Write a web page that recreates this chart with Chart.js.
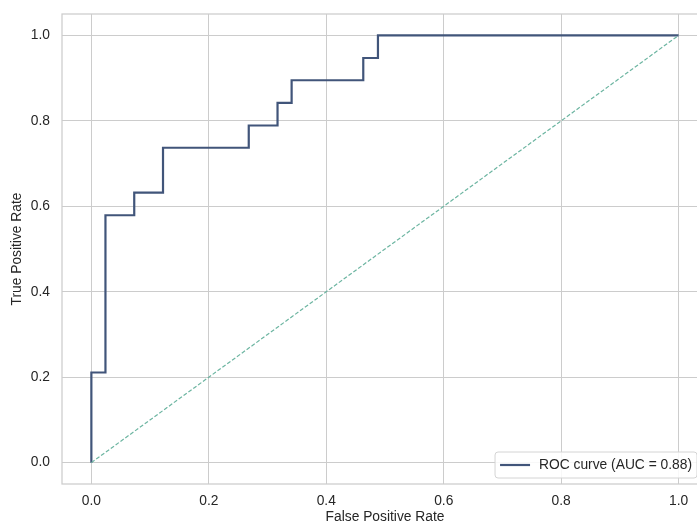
<!DOCTYPE html>
<html>
<head>
<meta charset="utf-8">
<title>ROC curve</title>
<script src="https://cdn.jsdelivr.net/npm/chart.js@4.4.1/dist/chart.umd.min.js"></script>
<style>
  html, body { margin: 0; padding: 0; background: #fff; overflow: hidden; }
  #wrap { width: 712px; height: 524px; }
</style>
</head>
<body>
<div id="wrap"><canvas id="roc" width="712" height="524"></canvas></div>
<script>
// ROC points (false positive rate / true positive rate)
const fpr = [0, 0, 0.024, 0.024, 0.073, 0.073, 0.122, 0.122, 0.268, 0.268, 0.317, 0.317, 0.341, 0.341, 0.463, 0.463, 0.488, 0.488, 1.0];
const tpr = [0, 0.211, 0.211, 0.579, 0.579, 0.632, 0.632, 0.737, 0.737, 0.789, 0.789, 0.842, 0.842, 0.895, 0.895, 0.947, 0.947, 1.0, 1.0];
const chanceX = [0, 1];
const chanceY = [0, 1];
const tickValues = [0, 0.2, 0.4, 0.6, 0.8, 1.0];
const rocLabel = 'ROC curve (AUC = 0.88)';

const FONT = '"Liberation Sans", Arial, sans-serif';
const TEXT = '#262626';
const GRID = '#cccccc';
const ROC_COLOR = '#41557a';
const DIAG_COLOR = '#6cb5a1';

const toPoints = (xs, ys) => xs.map((x, i) => ({ x: x, y: ys[i] }));

// frame round the plot area + legend in the lower right corner
const framePlugin = {
  id: 'frame',
  afterDatasetsDraw(chart) {
    const { ctx, chartArea: a } = chart;
    ctx.save();
    ctx.strokeStyle = GRID;
    ctx.lineWidth = 1.25;
    ctx.strokeRect(a.left, a.top, a.right - a.left, a.bottom - a.top);

    ctx.font = '13.8px ' + FONT;
    const tw = ctx.measureText(rocLabel).width;
    const w = 5 + 30 + 9 + tw + 5;
    const h = 26;
    const x = a.right - 11 - w;
    const y = a.bottom - 6 - h;
    ctx.beginPath();
    ctx.roundRect(x, y, w, h, 3);
    ctx.fillStyle = 'rgba(255,255,255,0.85)';
    ctx.fill();
    ctx.strokeStyle = '#d4d4d4';
    ctx.lineWidth = 1;
    ctx.stroke();

    ctx.beginPath();
    ctx.moveTo(x + 5, y + h / 2);
    ctx.lineTo(x + 35, y + h / 2);
    ctx.strokeStyle = ROC_COLOR;
    ctx.lineWidth = 2.2;
    ctx.stroke();

    ctx.fillStyle = TEXT;
    ctx.textBaseline = 'middle';
    ctx.fillText(rocLabel, x + 44, y + h / 2 + 0.5);
    ctx.restore();
  }
};

function fixedTicks(scale) {
  scale.ticks = tickValues.map(v => ({ value: v }));
}

new Chart(document.getElementById('roc'), {
  type: 'line',
  data: {
    datasets: [
      {
        label: rocLabel,
        data: toPoints(fpr, tpr),
        borderColor: ROC_COLOR,
        borderWidth: 2.2,
        pointRadius: 0,
        fill: false,
        tension: 0,
        order: 1
      },
      {
        label: 'chance',
        data: toPoints(chanceX, chanceY),
        borderColor: DIAG_COLOR,
        borderWidth: 1.2,
        borderDash: [4, 2],
        pointRadius: 0,
        fill: false,
        order: 0
      }
    ]
  },
  options: {
    responsive: false,
    animation: false,
    layout: { padding: { top: 14, right: 4, left: 0, bottom: 0 } },
    plugins: {
      legend: { display: false },
      tooltip: { enabled: false }
    },
    scales: {
      x: {
        type: 'linear',
        min: -0.05,
        max: 1.05,
        afterBuildTicks: fixedTicks,
        afterFit: s => { s.height = 40; s.paddingLeft = 0; s.paddingRight = 0; },
        grid: { color: GRID, lineWidth: 1, drawTicks: false },
        border: { display: false },
        ticks: {
          padding: 9,
          color: TEXT,
          font: { family: FONT, size: 13.8 },
          maxRotation: 0,
          callback: v => v.toFixed(1)
        },
        title: {
          display: true,
          text: 'False Positive Rate',
          color: TEXT,
          font: { family: FONT, size: 13.8, lineHeight: 1 },
          padding: { top: 0, bottom: 0 }
        }
      },
      y: {
        type: 'linear',
        min: -0.05,
        max: 1.05,
        afterBuildTicks: fixedTicks,
        afterFit: s => { s.width = 62; s.paddingTop = 0; s.paddingBottom = 0; },
        grid: { color: GRID, lineWidth: 1, drawTicks: false },
        border: { display: false },
        ticks: {
          padding: 12,
          color: TEXT,
          font: { family: FONT, size: 13.8 },
          callback: v => v.toFixed(1)
        },
        title: {
          display: true,
          text: 'True Positive Rate',
          color: TEXT,
          font: { family: FONT, size: 13.8, lineHeight: 1.2 },
          padding: { top: 9, bottom: 0 }
        }
      }
    }
  },
  plugins: [framePlugin]
});
</script>
</body>
</html>
